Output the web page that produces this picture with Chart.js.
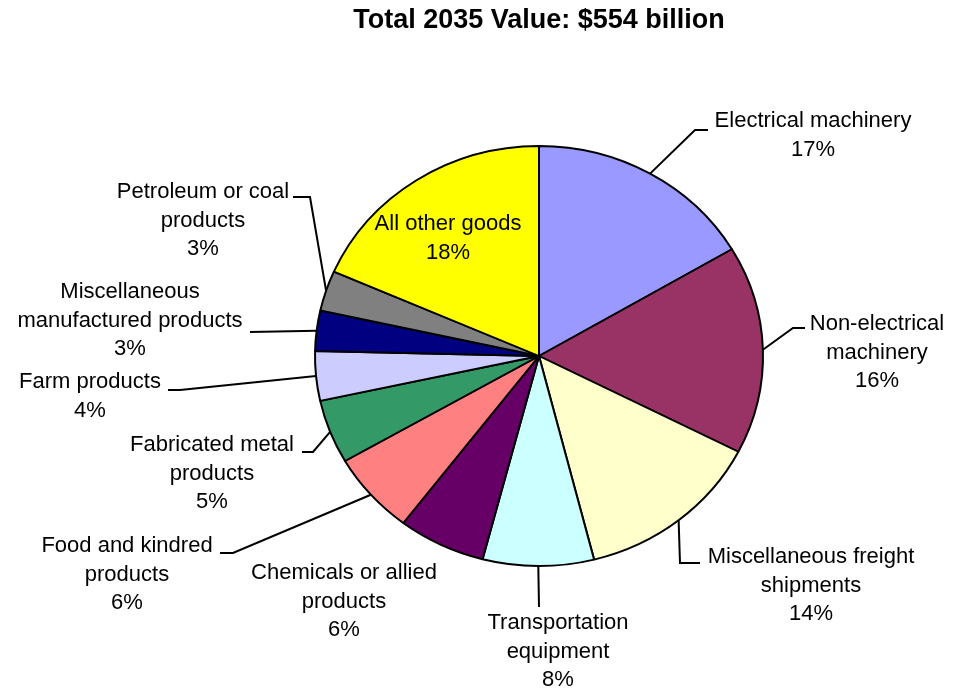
<!DOCTYPE html>
<html>
<head>
<meta charset="utf-8">
<title>Total 2035 Value</title>
<script src="https://cdn.jsdelivr.net/npm/chart.js@4.4.1/dist/chart.umd.min.js"></script>
<style>
  html, body { margin: 0; padding: 0; background: #fff; }
</style>
</head>
<body>
<canvas id="pie" width="955" height="691"></canvas>
<script>
// slice names (one entry per text line), clockwise from 12 o'clock
const categories = [
  ['Electrical machinery'],
  ['Non-electrical', 'machinery'],
  ['Miscellaneous freight', 'shipments'],
  ['Transportation', 'equipment'],
  ['Chemicals or allied', 'products'],
  ['Food and kindred', 'products'],
  ['Fabricated metal', 'products'],
  ['Farm products'],
  ['Miscellaneous', 'manufactured products'],
  ['Petroleum or coal', 'products'],
  ['All other goods']
];
// share of 2035 value, percent
const shares = [16.5, 16.0, 13.5, 8.0, 6.3, 6.3, 4.9, 3.8, 3.1, 3.1, 18.4];
const totalValue = 554; // $ billion

const sliceColors = [
  '#9999FF', '#993366', '#FFFFCC', '#CCFFFF', '#660066', '#FF8080',
  '#339966', '#CCCCFF', '#000080', '#808080', '#FFFF00'
];

// where each label sits, and the bends of its leader line
const labelSpots = [
  { x: 813, y: 121, leader: [[695, 130], [708, 130]] },
  { x: 877, y: 324, leader: [[793, 328], [805, 328]] },
  { x: 811, y: 557, leader: [[680, 563], [700, 563]] },
  { x: 558, y: 623, leader: [[539, 607]] },
  { x: 344, y: 573, leader: null },
  { x: 127, y: 546, leader: [[233, 553], [220, 553]] },
  { x: 212, y: 445, leader: [[313, 452], [302, 452]] },
  { x: 90,  y: 382, leader: [[180, 390], [168, 390]] },
  { x: 130, y: 292, leader: [[250, 332]] },
  { x: 203, y: 192, leader: [[310, 197], [293, 197]] },
  { x: 448, y: 224, leader: null }
];

const squash = 0.9375;   // the pie is a little flatter than it is wide
const lineGap = 28.5;
const labelFont = '22px "Liberation Sans", Arial, sans-serif';

const ellipsePie = {
  id: 'ellipsePie',
  beforeDatasetsDraw(chart) {
    const first = chart.getDatasetMeta(0).data[0];
    const ctx = chart.ctx;
    ctx.save();
    ctx.translate(first.x, first.y);
    ctx.scale(1, squash);
    ctx.translate(-first.x, -first.y);
  },
  afterDatasetsDraw(chart) {
    const ctx = chart.ctx;
    ctx.restore();

    const arcs = chart.getDatasetMeta(0).data;
    ctx.save();
    ctx.strokeStyle = '#000';
    ctx.lineWidth = 2;
    ctx.fillStyle = '#000';
    ctx.font = labelFont;
    ctx.textAlign = 'center';
    ctx.textBaseline = 'middle';

    arcs.forEach((arc, i) => {
      const spot = labelSpots[i];
      if (spot.leader) {
        const mid = (arc.startAngle + arc.endAngle) / 2;
        const ax = arc.x + Math.cos(mid) * arc.outerRadius;
        const ay = arc.y + Math.sin(mid) * arc.outerRadius * squash;
        ctx.beginPath();
        ctx.moveTo(ax, ay);
        spot.leader.forEach(p => ctx.lineTo(p[0], p[1]));
        ctx.stroke();
      }
      const lines = categories[i].concat([Math.round(shares[i]) + '%']);
      lines.forEach((t, k) => ctx.fillText(t, spot.x, spot.y + k * lineGap));
    });
    ctx.restore();
  }
};

new Chart(document.getElementById('pie'), {
  type: 'pie',
  data: {
    labels: categories,
    datasets: [{
      data: shares,
      backgroundColor: sliceColors,
      borderColor: '#000',
      borderWidth: 2
    }]
  },
  options: {
    responsive: false,
    animation: false,
    events: [],
    layout: { padding: { left: 314, right: 191, top: 0, bottom: 110 } },
    plugins: {
      legend: { display: false },
      tooltip: { enabled: false },
      title: {
        display: true,
        text: 'Total 2035 Value: $' + totalValue + ' billion',
        color: '#000',
        font: { family: '"Liberation Sans", Arial, sans-serif', size: 27, weight: 'bold', lineHeight: 1.2 },
        padding: { top: 4, bottom: 94.6 }
      }
    }
  },
  plugins: [ellipsePie]
});
</script>
</body>
</html>
